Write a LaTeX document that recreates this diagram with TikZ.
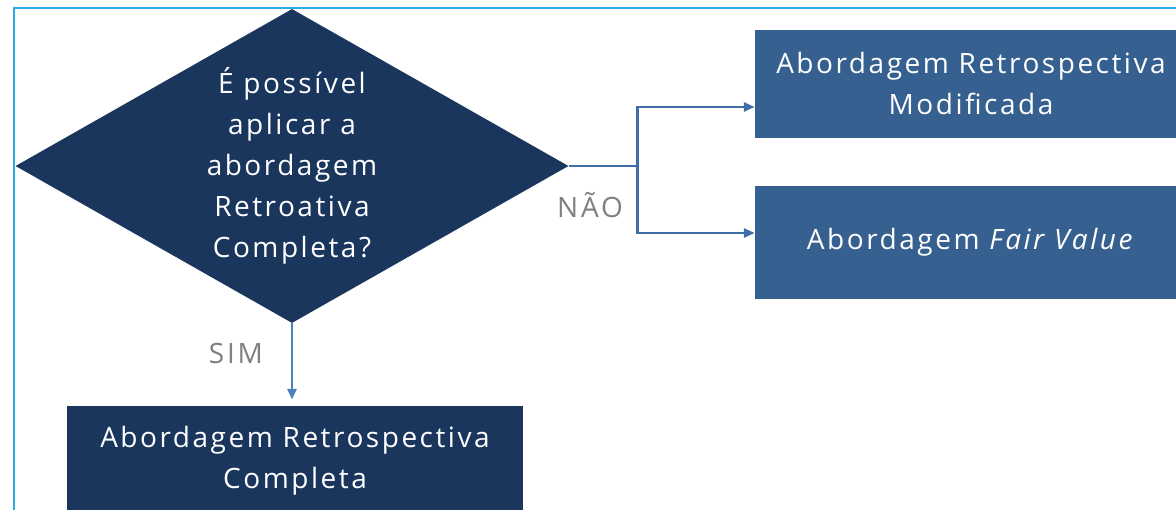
\documentclass[tikz,border=0pt]{standalone}
\usepackage{fontspec}
\setmainfont{Open Sans}[LetterSpace=9]
\usetikzlibrary{shapes.geometric,arrows.meta,positioning}
\definecolor{navy}{HTML}{1B365D}
\definecolor{steel}{HTML}{36608F}
\definecolor{link}{HTML}{3E6DA8}
\definecolor{linklight}{HTML}{4F81BD}
\definecolor{frame}{HTML}{2AABE2}
\definecolor{labelgray}{HTML}{7F7F7F}

\begin{document}
\begin{tikzpicture}[x=1pt, y=1pt,
    box/.style={rectangle, text=white, align=center, inner sep=0pt, font=\fontsize{28}{41}\selectfont},
    arr/.style={-{Triangle[length=11pt,width=9pt]}, line width=2.7pt, draw=link},
    answer/.style={text=labelgray, font=\fontsize{28}{32}\selectfont\addfontfeatures{LetterSpace=10}}]
        \useasboundingbox (0,0) rectangle (1176,509);
        \clip (0,0) rectangle (1176,509);

        % Frame
        \draw[frame, line width=2.2pt] (14,-20) rectangle (1200,501);

        % Decision
        \node[box, diamond, fill=navy, aspect=1.76, minimum width=553pt, minimum height=314pt] (decision) at (292,343) {É possível\\aplicar a\\abordagem\\Retroativa\\Completa?};

        % Outcomes
        \node[box, fill=steel, minimum width=432pt, minimum height=108pt] (modified) at (971,425) {Abordagem Retrospectiva\\Modificada};
        \node[box, fill=steel, minimum width=432pt, minimum height=113pt] (fairvalue) at (971,266.5) {Abordagem \textit{Fair Value}};
        \node[box, fill=navy, minimum width=456pt, minimum height=110pt] (full) at (295,48) {Abordagem Retrospectiva\\Completa};

        % Arrows
        \draw[arr] (decision.east) -- ++(69,0) |- ([yshift=-23pt]modified.west);
        \draw[arr] (decision.east) -- ++(69,0) |- ([yshift=9.5pt]fairvalue.west);
        \draw[arr, draw=linklight, shorten >=6pt] (decision.south) -- (decision.south |- full.north);

        % Labels
        \node[answer] (no) at (590,304) {NÃO};
        \node[answer] (yes) at (236,156) {SIM};
    \end{tikzpicture}
\end{document}
